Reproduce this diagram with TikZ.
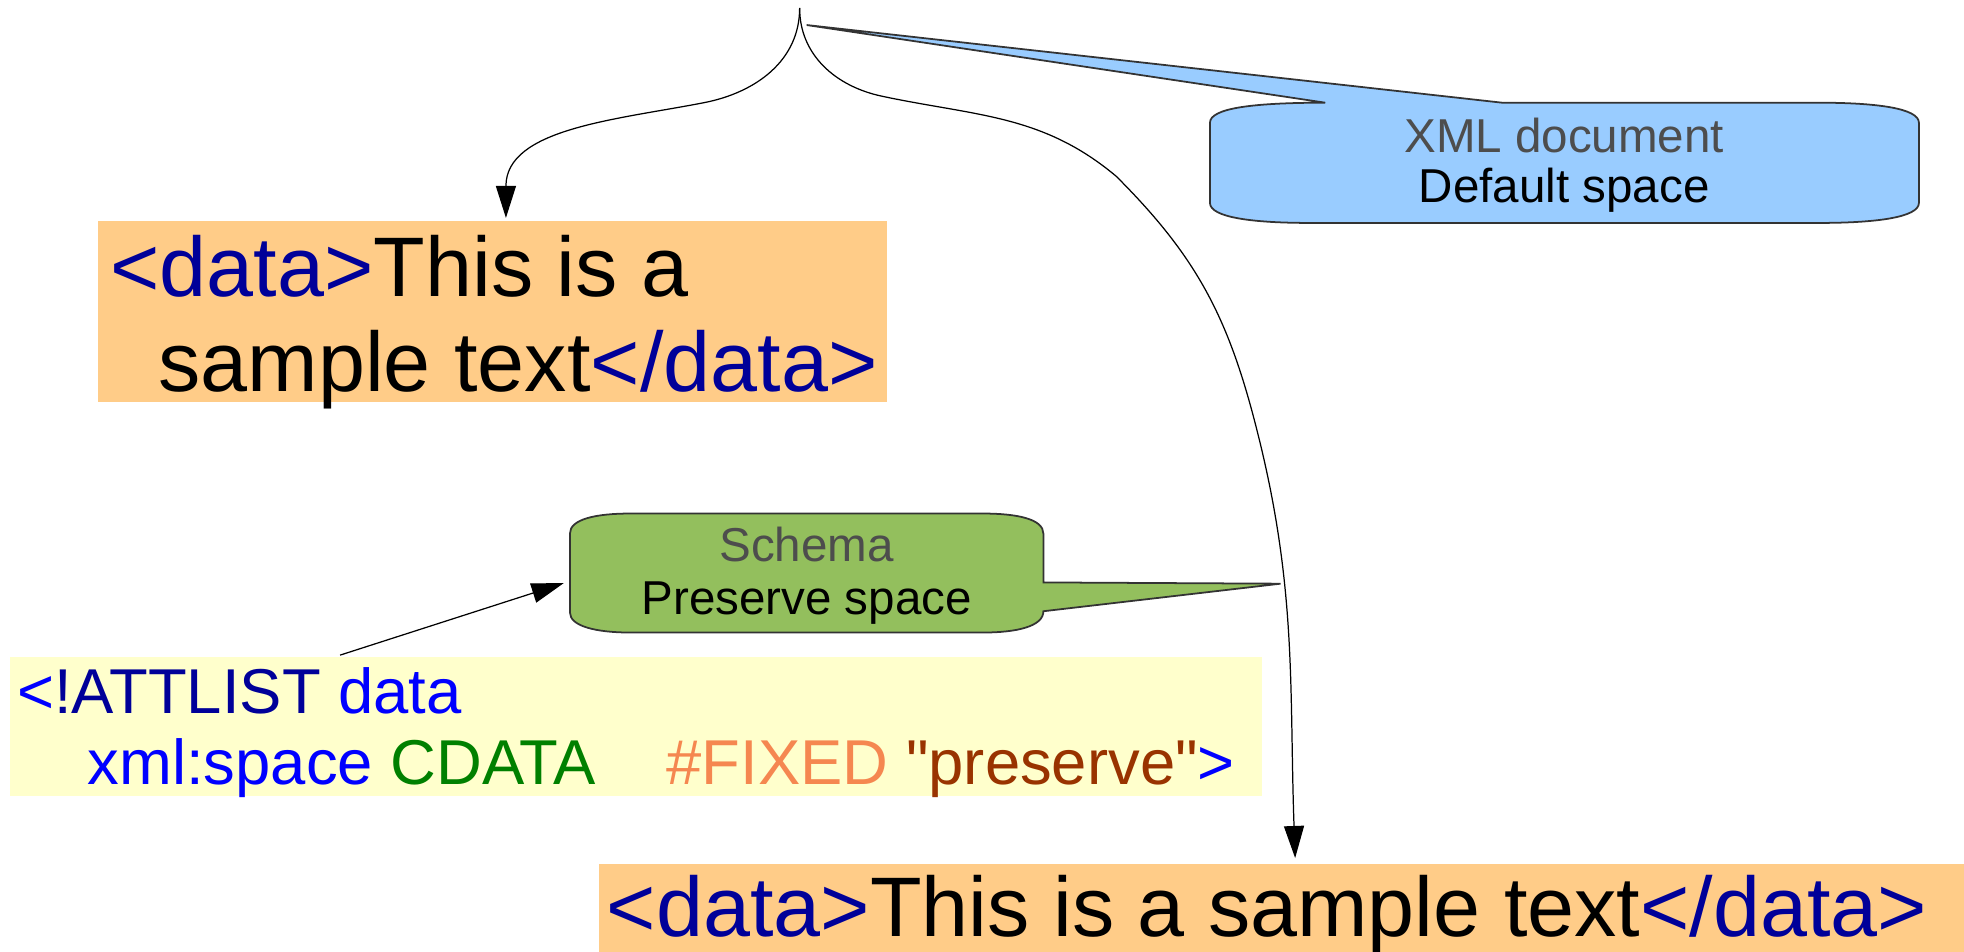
\documentclass[tikz,border=0pt]{standalone}
\usepackage{fontspec}
\setmainfont{Liberation Sans}
\newfontfamily\codefont{Liberation Sans}
\usetikzlibrary{arrows.meta}

\definecolor{tagblue}{RGB}{0,0,153}
\definecolor{keyblue}{RGB}{0,0,255}
\definecolor{cdatagreen}{RGB}{0,128,0}
\definecolor{fixedorange}{RGB}{245,135,80}
\definecolor{valbrown}{RGB}{153,51,0}
\definecolor{noteblue}{RGB}{153,204,255}
\definecolor{notegreen}{RGB}{147,191,93}
\definecolor{notegray}{RGB}{77,77,77}
\definecolor{sampleorange}{RGB}{255,204,136}
\definecolor{dtdyellow}{RGB}{255,255,204}

\begin{document}
\begin{tikzpicture}[
    bigtext/.style={anchor=base west, inner sep=0pt, font=\fontsize{24}{27.6}\selectfont},
    dtdtext/.style={anchor=base west, inner sep=0pt, font=\codefont\fontsize{18}{20.3}\selectfont},
    notetext/.style={anchor=base, inner sep=0pt, font=\fontsize{13.5}{15}\selectfont},
    panel/.style={inner sep=0pt, outer sep=0pt, draw=none},
    link/.style={line width=0.35pt, ->, >={Triangle[length=3.2mm, width=2mm]}}
]
    \useasboundingbox (0,0) rectangle (19.6,9.5);

    % Sample boxes
    \node[panel, fill=sampleorange, anchor=north west, minimum width=7.88cm, minimum height=1.81cm] (wrapped) at (0.975,7.295) {};
    \node[bigtext] (wrapone) at (1.095,6.54) {\textcolor{tagblue}{<data>}This is a};
    \node[bigtext] (wraptwo) at (1.575,5.59) {sample text\textcolor{tagblue}{</data>}};

    \node[panel, fill=sampleorange, anchor=south west, minimum width=13.62cm, minimum height=0.877cm] (kept) at (5.98,0) {};
    \node[bigtext] (keptline) at (6.05,0.1525) {\textcolor{tagblue}{<data>}This is a sample text\textcolor{tagblue}{</data>}};

    % DTD declaration
    \node[panel, fill=dtdyellow, anchor=south west, minimum width=12.49cm, minimum height=1.39cm] (dtd) at (0.1,1.556) {};
    \node[dtdtext, text=keyblue] (dtdone) at (0.165,2.381) {<\textcolor{tagblue}{!ATTLIST} data};
    \node[dtdtext, text=keyblue] (dtdtwo) at (0.869,1.666) {xml:space \textcolor{cdatagreen}{CDATA}\hspace{20pt}\textcolor{fixedorange}{\#FIXED} \textcolor{valbrown}{"preserve"}>};

    % Callouts
    \draw[line width=0.5pt, draw=black!80, fill=noteblue]
        (12.075,7.475) -- (12.075,8.275) .. controls (12.075,8.42) and (12.5,8.475) .. (13.225,8.475)
        -- (8.05,9.25) -- (14.99,8.475) -- (18.15,8.475)
        .. controls (18.72,8.475) and (19.15,8.42) .. (19.15,8.275) -- (19.15,7.475)
        .. controls (19.15,7.33) and (18.72,7.275) .. (18.15,7.275) -- (13.075,7.275)
        .. controls (12.5,7.275) and (12.075,7.33) .. (12.075,7.475) -- cycle;
    \node[notetext, text=notegray] (xmltitle) at (15.61,7.975) {XML document};
    \node[notetext] (xmlspace) at (15.61,7.475) {Default space};

    \draw[line width=0.5pt, draw=black!80, fill=notegreen]
        (5.6875,3.3875) -- (5.6875,4.175) .. controls (5.6875,4.32) and (5.95,4.375) .. (6.29,4.375)
        -- (9.81,4.375) .. controls (10.15,4.375) and (10.4125,4.32) .. (10.4125,4.175)
        -- (10.4125,3.6875) -- (12.78,3.675) -- (10.4125,3.4)
        .. controls (10.4125,3.25) and (10.15,3.1875) .. (9.81,3.1875) -- (6.29,3.1875)
        .. controls (5.95,3.1875) and (5.6875,3.25) .. (5.6875,3.3875) -- cycle;
    \node[notetext, text=notegray] (schtitle) at (8.05,3.895) {Schema};
    \node[notetext] (schspace) at (8.05,3.3625) {Preserve space};

    % Connectors
    \coordinate (origin) at (7.98,9.42);
    \coordinate (schema) at (5.625,3.68);
    \draw[link] (origin) to[out=-90, in=11] (7.025,8.475) to[out=191, in=90] ([xshift=1.34mm, yshift=0.3mm]wrapped.north);
    \draw[link] (origin) to[out=-90, in=168] (8.8,8.54) to[out=-12, in=140] (11.14,7.74)
        to[out=-45, in=105] (12.5,5.375) to[out=-75, in=92] ([xshift=1.35mm, yshift=0.6mm]kept.north);
    \draw[link] ([xshift=3.294cm, yshift=0.16mm]dtd.north west) -- (schema);
\end{tikzpicture}
\end{document}
